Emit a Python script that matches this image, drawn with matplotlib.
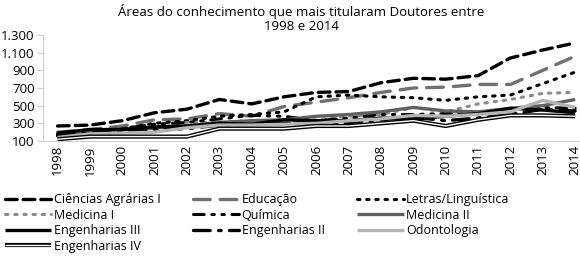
import numpy as np
import matplotlib.pyplot as plt
import matplotlib.patheffects as pe

plt.rcParams['font.family'] = ['Open Sans', 'DejaVu Sans']

years = [str(y) for y in range(1998, 2015)]

ciencias_agrarias_1 = [270, 280, 330, 420, 460, 570, 520, 600, 650, 660, 760, 810, 800, 840, 1040, 1130, 1210]
educacao = [200, 230, 270, 340, 350, 410, 380, 490, 540, 590, 650, 700, 710, 740, 740, 900, 1060]
letras = [180, 210, 240, 300, 330, 380, 400, 430, 600, 620, 600, 590, 560, 600, 620, 750, 880]
medicina_1 = [160, 200, 220, 240, 310, 310, 330, 310, 340, 380, 400, 480, 430, 520, 570, 640, 650]
quimica = [170, 200, 240, 290, 310, 350, 390, 380, 330, 360, 400, 400, 410, 420, 470, 480, 470]
medicina_2 = [170, 210, 230, 250, 270, 310, 330, 340, 380, 400, 430, 480, 440, 430, 470, 500, 570]
engenharias_3 = [190, 230, 230, 260, 270, 300, 290, 340, 330, 330, 360, 350, 380, 410, 470, 450, 420]
engenharias_2 = [160, 190, 200, 230, 240, 280, 290, 300, 290, 310, 340, 370, 330, 360, 400, 460, 440]
odontologia = [140, 180, 190, 200, 250, 280, 280, 290, 300, 330, 350, 390, 380, 400, 430, 560, 480]
engenharias_4 = [120, 150, 150, 150, 150, 240, 240, 240, 270, 270, 300, 330, 270, 340, 390, 390, 380]

x = np.arange(len(years))

fig = plt.figure(figsize=(5.8, 2.65), dpi=100)
ax = fig.add_axes([43 / 580, 124 / 265, 537 / 580, 106 / 265])

styles = [
    (ciencias_agrarias_1, "Ciências Agrárias I", "black", (0, (3.5, 1.8)), 2.4),
    (educacao, "Educação", "#707070", (0, (5, 3)), 2.4),
    (letras, "Letras/Linguística", "black", (0, (0.8, 2.2)), 2.2),
    (medicina_1, "Medicina I", "#8c8c8c", (0, (0.8, 2.2)), 2.2),
    (quimica, "Química", "black", (0, (3.5, 2.5, 0.8, 2.5, 0.8, 2.5)), 2.2),
    (medicina_2, "Medicina II", "#606060", "-", 2.4),
    (engenharias_3, "Engenharias III", "black", "-", 2.4),
    (engenharias_2, "Engenharias II", "black", (0, (5, 2.5, 0.8, 2.5)), 2.4),
    (odontologia, "Odontologia", "#b4b4b4", "-", 2.4),
]

handles = {}
for vals, name, col, ls, lw in styles:
    ln, = ax.plot(x, vals, color=col, ls=ls, lw=lw, solid_capstyle="butt",
                  dash_capstyle="round" if ls != "-" else "butt")
    handles[name] = ln

# Engenharias IV: double line (black outline, white core)
ln4, = ax.plot(x, engenharias_4, color="white", lw=1.0, solid_capstyle="butt",
               path_effects=[pe.Stroke(linewidth=3.0, foreground="black"), pe.Normal()])
handles["Engenharias IV"] = ln4

ax.set_xlim(-0.45, 16.15)
ax.set_ylim(100, 1300)
ax.set_yticks(range(100, 1301, 200))
ax.set_yticklabels(["100", "300", "500", "700", "900", "1.100", "1.300"])
ax.set_xticks(x)
ax.set_xticklabels(years, rotation=90)
for s in ["top", "right"]:
    ax.spines[s].set_visible(False)
for s in ["left", "bottom"]:
    ax.spines[s].set_color("#d0d0d0")
ax.tick_params(axis="y", length=4, color="#d0d0d0", labelsize=9.5, pad=2)
ax.tick_params(axis="x", length=0, labelsize=9.5, pad=3)

fig.text(0.52, 0.985, "Áreas do conhecimento que mais titularam Doutores entre\n1998 e 2014",
         ha="center", va="top", fontsize=9.5, linespacing=1.1)

order = ["Ciências Agrárias I", "Medicina I", "Engenharias III", "Engenharias IV",
         "Educação", "Química", "Engenharias II",
         "Letras/Linguística", "Medicina II", "Odontologia"]
hl = [handles[n] for n in order]
fig.legend(hl, order, ncol=3, loc="upper left", bbox_to_anchor=(0.0, 0.29),
           frameon=False, fontsize=9, handlelength=3.7, handletextpad=0.2,
           columnspacing=2.6, labelspacing=0.2, borderaxespad=0)

fig.savefig("out.png", dpi=100)
